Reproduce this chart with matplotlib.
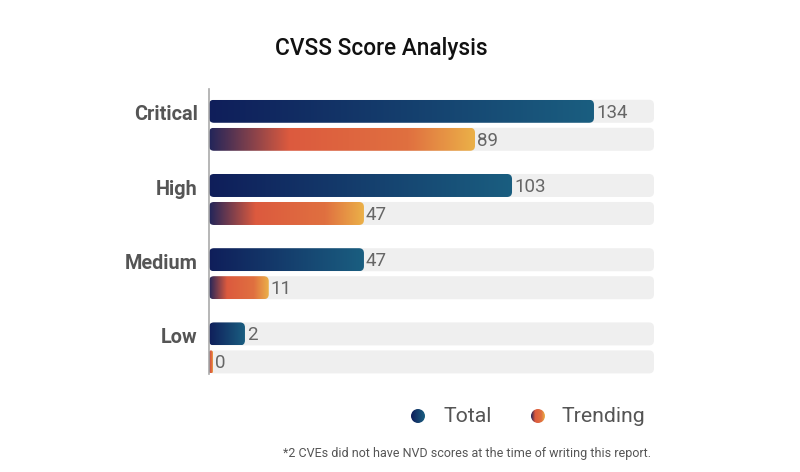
import numpy as np
import matplotlib
matplotlib.use("Agg")
import matplotlib.pyplot as plt
from matplotlib.colors import LinearSegmentedColormap
from matplotlib.patches import FancyBboxPatch, Circle

plt.rcParams['font.family'] = ['Roboto', 'DejaVu Sans']

categories = ["Critical", "High", "Medium", "Low"]
total = [134, 103, 47, 2]
trending = [89, 47, 11, 0]
series_names = ["Total", "Trending"]
title = "CVSS Score Analysis"
footnote = "*2 CVEs did not have NVD scores at the time of writing this report."

# value axis starts a little left of zero, as in the original graphic
x_lo, x_hi = -11.6, 156.7
total_cmap = LinearSegmentedColormap.from_list("tot", ["#0f1e5a", "#1a5e80"])
trend_cmap = LinearSegmentedColormap.from_list(
    "trd", [(0, "#22255a"), (0.3, "#dc5a3e"), (0.75, "#e07040"), (1, "#ebb048")])

fig = plt.figure(figsize=(8, 4.72), dpi=100)
# axes spans pixel 209..654 horizontally, 89..374 vertically
ax = fig.add_axes([209 / 800, 1 - 374 / 472, 445 / 800, 285 / 472])
ax.set_xlim(x_lo, x_hi)
ax.set_ylim(3.54, -0.30)

px_x = 445 / (x_hi - x_lo)   # pixels per x unit
px_y = 285 / 3.84            # pixels per y unit
aspect = px_x / px_y
bar_h = 23 / px_y
offset = 28 / px_y
rad = 5 / px_x
stub = 4 / px_x


def round_bar(x1, yc, color=None, cmap=None, z=2):
    w = max(x1 - x_lo, stub)
    patch = FancyBboxPatch((x_lo, yc - bar_h / 2), w, bar_h,
                           boxstyle=f"round,pad=0,rounding_size={min(rad, w / 2)}",
                           mutation_aspect=aspect, linewidth=0,
                           facecolor=color if color else "none", zorder=z)
    ax.add_patch(patch)
    if cmap is not None:
        grad = np.linspace(0, 1, 256).reshape(1, -1)
        im = ax.imshow(grad, cmap=cmap, aspect="auto", zorder=z + 1,
                       extent=[x_lo, x_lo + w, yc + bar_h / 2, yc - bar_h / 2])
        im.set_clip_path(patch)
    return x_lo + w


for i, cat in enumerate(categories):
    for j, (vals, cmap) in enumerate([(total, total_cmap), (trending, trend_cmap)]):
        yc = i + j * offset
        round_bar(x_hi, yc, color="#efefef", z=1)
        end = round_bar(vals[i] if vals[i] > 0 else x_lo, yc, cmap=cmap, z=2)
        ax.text(end + 0.8, yc + 0.02, str(vals[i]), va="center", ha="left",
                fontsize=13.5, color="#666666", zorder=5)
    ax.text(x_lo - 4.3, i + 0.05, cat, ha="right", va="center", fontsize=14.3,
            fontweight="bold", color="#555555")

for s in ["top", "right", "bottom"]:
    ax.spines[s].set_visible(False)
ax.spines["left"].set_color("#aaaaaa")
ax.spines["left"].set_linewidth(1.2)
ax.spines["left"].set_zorder(6)
ax.set_xticks([])
ax.set_yticks([])

fig.text(381 / 800, 1 - 49 / 472, title, ha="center", va="center",
         fontsize=16.3, fontweight="medium", color="#111111")

# legend with gradient dots, overlay in pixel coordinates
lax = fig.add_axes([0, 0, 1, 1], zorder=10)
lax.set_xlim(0, 800)
lax.set_ylim(472, 0)
lax.axis("off")
for (cx, tx), name, cmap in zip([(418, 443), (538, 561)], series_names, [total_cmap, trend_cmap]):
    c = Circle((cx, 416), 7, transform=lax.transData, facecolor="none", linewidth=0)
    lax.add_patch(c)
    im = lax.imshow(np.linspace(0, 1, 64).reshape(1, -1), cmap=cmap, aspect="auto",
                    extent=[cx - 7, cx + 7, 423, 409])
    im.set_clip_path(c)
    lax.text(tx, 416, name, ha="left", va="center", fontsize=15.3, color="#555555")

fig.text(467 / 800, 1 - 453 / 472, footnote, ha="center", va="center",
         fontsize=9.0, color="#555555")

fig.savefig("out.png", dpi=100)
